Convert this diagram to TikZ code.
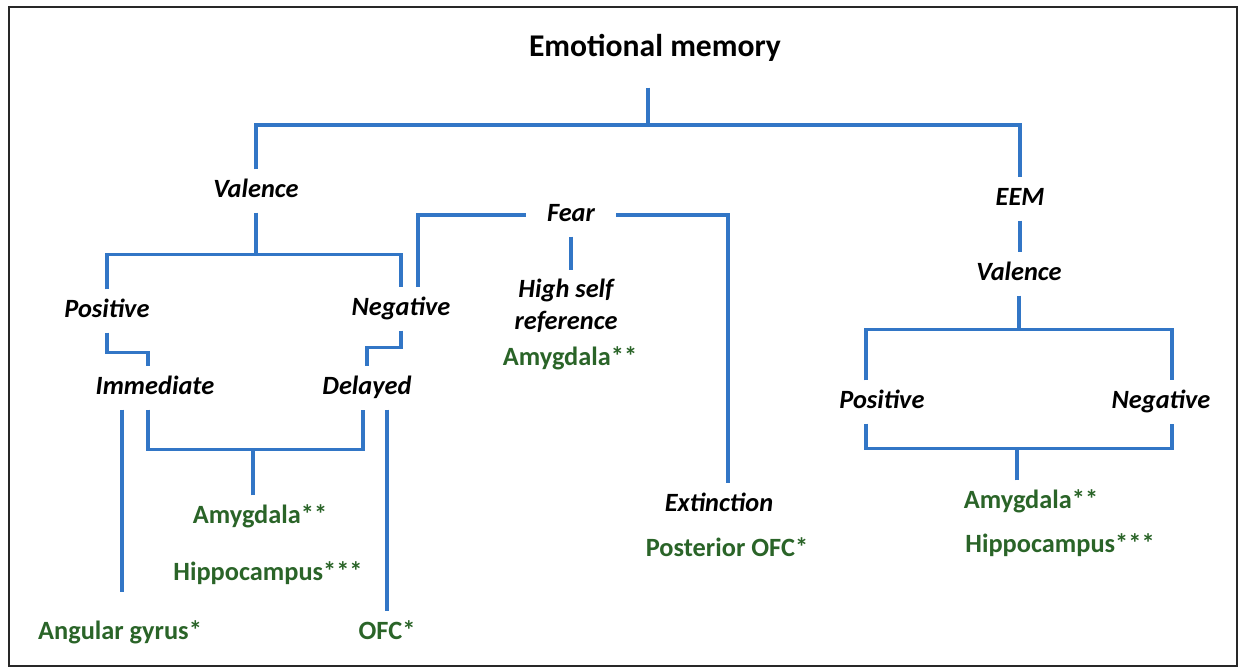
\documentclass[tikz,border=0pt]{standalone}
\usepackage{fontspec}
\setmainfont{Carlito}
\usetikzlibrary{calc}

\definecolor{lineblue}{RGB}{50,118,198}
\definecolor{areagreen}{RGB}{42,100,40}
\definecolor{framegray}{RGB}{40,40,40}

\tikzset{
  link/.style={draw=lineblue, line width=2pt},
  lbl/.style={inner sep=0pt, outer sep=5pt},
  headline/.style={lbl, font=\fontsize{18}{22}\selectfont\bfseries, text height=13.5pt, text depth=4.5pt, outer ysep=13pt},
  term/.style={lbl, font=\fontsize{15}{18}\selectfont\bfseries\itshape, text height=11pt, text depth=3.5pt},
  area/.style={lbl, font=\fontsize{15}{18}\selectfont\bfseries, text=areagreen, text height=11pt, text depth=3.5pt},
}

\begin{document}
\begin{tikzpicture}[x=0.2mm,y=-0.2mm]
    \useasboundingbox (0,0) rectangle (1240,669);

    % Marco
    \draw[framegray, line width=1.6pt] (9,7) rectangle (1237,666);

    % Titulo
    \node[headline] (title) at (655,49) {Emotional memory};

    % Rama de valencia
    \node[term] (val) at (256,191) {Valence};
    \node[term] (pos) at (107,311) {Positive};
    \node[term] (neg) at (401,309) {Negative};
    \node[term] (imm) at (155,388) {Immediate};
    \node[term] (del) at (367,388) {Delayed};
    \node[area] (amyV) at (260,517) {Amygdala**};
    \node[area] (hipV) at (268,574) {Hippocampus***};
    \node[area] (ang) at (120,633) {Angular gyrus*};
    \node[area] (ofc) at (387,633) {OFC*};

    % Rama del miedo
    \node[term, outer xsep=12pt] (fear) at (571,215) {Fear};
    \node[lbl, font=\fontsize{15}{18.2}\selectfont\bfseries\itshape, align=center, anchor=north] (self) at (566,270) {High self\\reference};
    \node[area] (amyF) at (570,359) {Amygdala**};
    \node[term] (ext) at (719,505) {Extinction};
    \node[area] (pofc) at (727,550) {Posterior OFC*};

    % Rama EEM
    \node[term] (eem) at (1020,199) {EEM};
    \node[term] (valE) at (1019,274) {Valence};
    \node[term] (posE) at (882,402) {Positive};
    \node[term] (negE) at (1161,402) {Negative};
    \node[area] (amyE) at (1031,502) {Amygdala**};
    \node[area] (hipE) at (1060,546) {Hippocampus***};

    % Conectores superiores
    \coordinate (top) at (648,125);
    \draw[link] (title.south -| top) -- (top);
    \draw[link] (val.north) |- (top) -| (eem.north);

    % Valencia -> positivo / negativo
    \draw[link] (val.south) -- ++(0,42) coordinate (vbar);
    \draw[link] (pos.north) |- (vbar) -| (neg.north);
    \draw[link] (pos.south) -- ++(0,20) -| ($(imm.north)+(-7,0)$);
    \draw[link] (neg.south) -- ++(0,17) -| (del.north);

    % Inmediato / diferido -> regiones
    \draw[link] ($(imm.south)+(-7,0)$) -- ++(0,40) -| ($(del.south)+(-4,0)$);
    \draw[link] ($(amyV.north)+(-7,0)$) -- ++(0,-45);
    \draw[link] ($(imm.south)+(-33,0)$) -- ($(ang.north)+(2,-19)$);
    \draw[link] ($(del.south)+(20,0)$) -- (ofc.north);

    % Miedo
    \draw[link] (fear.west) -| ($(neg.north)+(17,0)$);
    \draw[link] (fear.east) -| ($(ext.north)+(9,0)$);
    \draw[link] (fear.south) -- (fear.south |- self.north);

    % EEM
    \draw[link] (eem.south) -- (eem.south |- valE.north);
    \draw[link] (valE.south) -- ++(0,34) coordinate (ebar);
    \draw[link] ($(posE.north)+(-16,0)$) |- (ebar) -| ($(negE.north)+(11,0)$);
    \draw[link] ($(posE.south)+(-16,0)$) -- ++(0,25) -| ($(negE.south)+(11,0)$);
    \draw[link] ($(amyE.north)+(-14,0)$) -- ++(0,-33);

\end{tikzpicture}
\end{document}
